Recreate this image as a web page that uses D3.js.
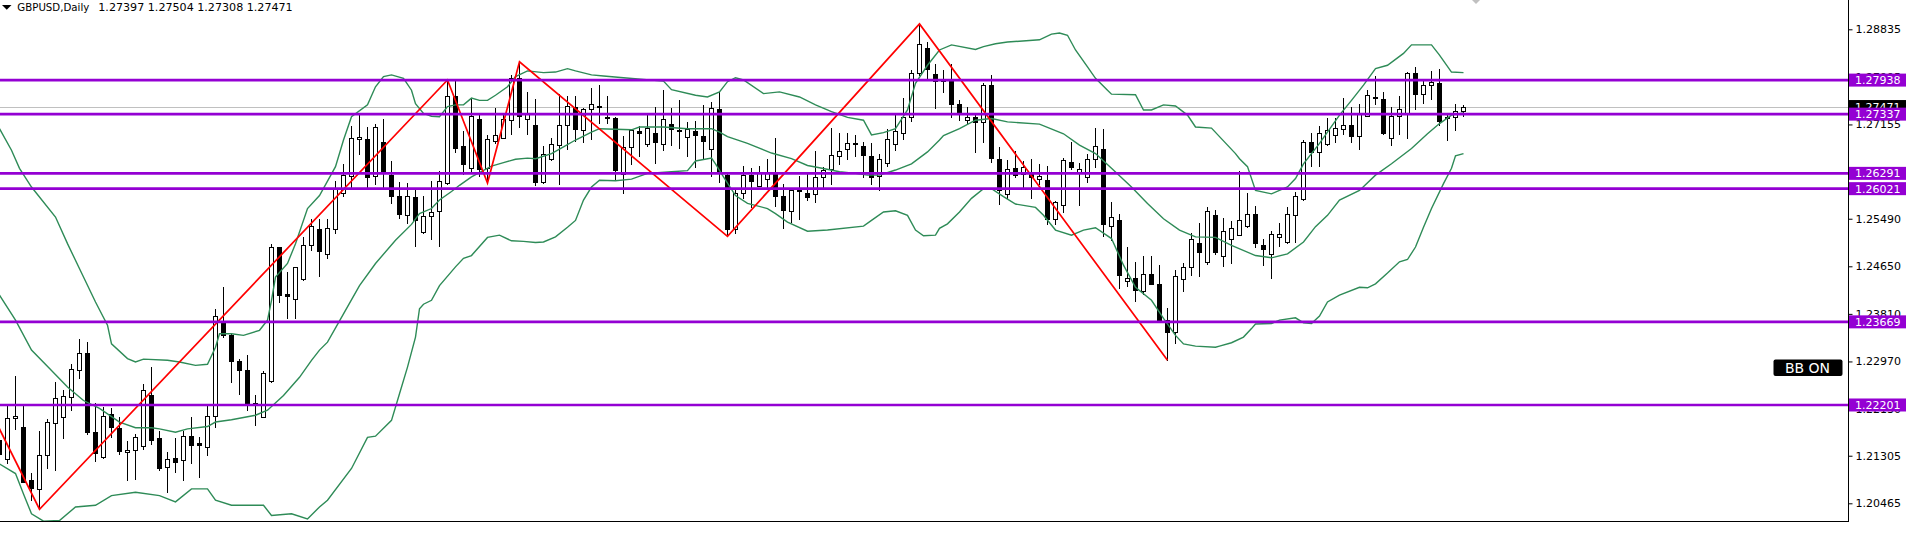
<!DOCTYPE html>
<html><head><meta charset="utf-8">
<script src="https://cdn.jsdelivr.net/npm/d3@7"></script>
<style>html,body{margin:0;padding:0;background:#fff;overflow:hidden}</style>
</head><body>
<svg id="chart" width="1913" height="540"></svg>
<script>
// ---------- DATA (GBPUSD Daily, first visible day index = -1) ----------
const symbolTitle = "GBPUSD,Daily";
const lastOHLC = ["1.27397", "1.27504", "1.27308", "1.27471"];
const firstDay = -1;
const openP = [
1.2158,1.2125,1.2198,1.2182,1.2087,1.2072,1.2131,1.2189,1.2199,1.2234,
1.2282,1.2312,1.2172,1.2128,1.2204,1.2180,1.2137,1.2141,1.2147,1.2238,
1.2161,1.2110,1.2126,1.2123,1.2165,1.2153,1.2146,1.2200,1.2365,1.2343,
1.2298,1.2282,1.2224,1.2199,1.2262,1.2499,1.2416,1.2408,1.2443,1.2503,
1.2530,1.2487,1.2531,1.2595,1.2625,1.2689,1.2689,1.2624,1.2685,1.2627,
1.2589,1.2556,1.2588,1.2526,1.2553,1.2562,1.2612,1.2766,1.2678,1.2638,
1.2725,1.2638,1.2686,1.2692,1.2724,1.2797,1.2725,1.2715,1.2613,1.2655,
1.2680,1.2714,1.2747,1.2705,1.2742,1.2748,1.2728,1.2726,1.2628,1.2675,
1.2704,1.2681,1.2701,1.2681,1.2717,1.2705,1.2694,1.2704,1.2695,1.2673,
1.2742,1.2626,1.2530,1.2595,1.2626,1.2607,1.2620,1.2629,1.2590,1.2563,
1.2598,1.2595,1.2592,1.2622,1.2636,1.2659,1.2673,1.2683,1.2678,1.2660,
1.2624,1.2648,1.2681,1.2701,1.2729,1.2807,1.2851,1.2804,1.2793,1.2795,
1.2752,1.2724,1.2728,1.2719,1.2786,1.2654,1.2592,1.2638,1.2628,1.2632,
1.2620,1.2617,1.2548,1.2573,1.2649,1.2632,1.2622,1.2654,1.2673,1.2536,
1.2546,1.2439,1.2444,1.2421,1.2451,1.2433,1.2371,1.2349,1.2442,1.2463,
1.2507,1.2472,1.2555,1.2483,1.2513,1.2521,1.2536,1.2558,1.2502,1.2487,
1.2516,1.2508,1.2556,1.2583,1.2685,1.2667,1.2681,1.2697,1.2707,1.2715,
1.2695,1.2731,1.2764,1.2760,1.2692,1.2730,1.2734,1.2807,1.2770,1.2785,
1.2788,1.2729,1.2729,1.27397];
const highP = [
1.2169,1.2219,1.2271,1.2219,1.2100,1.2175,1.2196,1.2261,1.2246,1.2292,
1.2336,1.2331,1.2224,1.2216,1.2215,1.2199,1.2156,1.2169,1.2258,1.2287,
1.2175,1.2137,1.2161,1.2175,1.2199,1.2163,1.2222,1.2390,1.2429,1.2346,
1.2302,1.2308,1.2237,1.2281,1.2505,1.2499,1.2455,1.2464,1.2517,1.2549,
1.2549,1.2549,1.2615,1.2645,1.2713,1.2732,1.2711,1.2716,1.2725,1.2651,
1.2614,1.2612,1.2601,1.2589,1.2616,1.2633,1.2794,1.2792,1.2704,1.2762,
1.2735,1.2697,1.2745,1.2736,1.2803,1.2826,1.2772,1.2760,1.2678,1.2691,
1.2770,1.2766,1.2766,1.2745,1.2779,1.2786,1.2766,1.2729,1.2695,1.2708,
1.2713,1.2733,1.2747,1.2776,1.2744,1.2758,1.2720,1.2722,1.2750,1.2755,
1.2772,1.2632,1.2602,1.2642,1.2639,1.2642,1.2654,1.2691,1.2611,1.2602,
1.2625,1.2631,1.2668,1.2641,1.2709,1.2701,1.2701,1.2697,1.2685,1.2682,
1.2663,1.2707,1.2735,1.2762,1.2811,1.2893,1.2861,1.2823,1.2811,1.2823,
1.2758,1.2747,1.2732,1.2788,1.2803,1.2676,1.2652,1.2668,1.2651,1.2654,
1.2645,1.2642,1.2580,1.2656,1.2684,1.2648,1.2664,1.2709,1.2707,1.2578,
1.2558,1.2499,1.2472,1.2483,1.2483,1.2468,1.2391,1.2458,1.2470,1.2524,
1.2542,1.2569,1.2564,1.2550,1.2545,1.2634,1.2595,1.2571,1.2513,1.2527,
1.2542,1.2569,1.2596,1.2688,1.2701,1.2712,1.2727,1.2727,1.2762,1.2747,
1.2752,1.2777,1.2801,1.2772,1.2747,1.2766,1.2808,1.2817,1.2794,1.2810,
1.2813,1.2735,1.2751,1.27504];
const lowP = [
1.2125,1.2118,1.2178,1.2084,1.2052,1.2036,1.2108,1.2105,1.2162,1.2212,
1.2267,1.2169,1.2122,1.2127,1.2163,1.2133,1.2087,1.2090,1.2143,1.2152,
1.2105,1.2066,1.2102,1.2087,1.2118,1.2093,1.2131,1.2182,1.2340,1.2261,
1.2240,1.2211,1.2184,1.2199,1.2261,1.2402,1.2374,1.2373,1.2441,1.2494,
1.2447,1.2480,1.2523,1.2590,1.2605,1.2663,1.2604,1.2611,1.2602,1.2576,
1.2551,1.2542,1.2501,1.2524,1.2514,1.2500,1.2610,1.2667,1.2628,1.2629,
1.2625,1.2612,1.2682,1.2691,1.2698,1.2711,1.2699,1.2609,1.2612,1.2652,
1.2611,1.2673,1.2686,1.2685,1.2689,1.2718,1.2718,1.2617,1.2595,1.2646,
1.2660,1.2677,1.2648,1.2670,1.2680,1.2674,1.2660,1.2641,1.2656,1.2625,
1.2613,1.2518,1.2524,1.2585,1.2570,1.2606,1.2605,1.2572,1.2533,1.2543,
1.2549,1.2582,1.2578,1.2602,1.2611,1.2646,1.2655,1.2660,1.2622,1.2610,
1.2599,1.2642,1.2670,1.2689,1.2722,1.2803,1.2794,1.2745,1.2773,1.2729,
1.2724,1.2716,1.2667,1.2685,1.2649,1.2575,1.2585,1.2622,1.2604,1.2585,
1.2611,1.2539,1.2539,1.2561,1.2636,1.2573,1.2613,1.2641,1.2518,1.2511,
1.2426,1.2430,1.2404,1.2416,1.2433,1.2367,1.2299,1.2330,1.2421,1.2449,
1.2448,1.2469,1.2487,1.2465,1.2470,1.2520,1.2535,1.2499,1.2467,1.2445,
1.2500,1.2507,1.2508,1.2582,1.2642,1.2642,1.2680,1.2684,1.2699,1.2684,
1.2672,1.2731,1.2752,1.2698,1.2679,1.2699,1.2692,1.2742,1.2754,1.2760,
1.2714,1.2688,1.2705,1.27308];
const closeP = [
1.2134,1.2198,1.2201,1.2084,1.2074,1.2132,1.2190,1.2232,1.2236,1.2284,
1.2312,1.2172,1.2135,1.2201,1.2181,1.2139,1.2141,1.2163,1.2247,1.2158,
1.2108,1.2125,1.2119,1.2166,1.2149,1.2149,1.2200,1.2378,1.2343,1.2298,
1.2282,1.2221,1.2221,1.2277,1.2499,1.2414,1.2413,1.2464,1.2503,1.2537,
1.2492,1.2533,1.2601,1.2627,1.2692,1.2694,1.2623,1.2711,1.2631,1.2590,
1.2558,1.2590,1.2547,1.2553,1.2561,1.2616,1.2766,1.2674,1.2646,1.2731,
1.2636,1.2689,1.2697,1.2725,1.2798,1.2731,1.2734,1.2614,1.2664,1.2681,
1.2715,1.2748,1.2707,1.2742,1.2751,1.2747,1.2727,1.2635,1.2675,1.2705,
1.2701,1.2709,1.2685,1.2725,1.2707,1.2704,1.2707,1.2697,1.2686,1.2744,
1.2633,1.2530,1.2595,1.2626,1.2616,1.2630,1.2629,1.2589,1.2565,1.2599,
1.2600,1.2588,1.2622,1.2635,1.2661,1.2669,1.2683,1.2681,1.2661,1.2623,
1.2655,1.2689,1.2704,1.2729,1.2807,1.2857,1.2813,1.2793,1.2795,1.2752,
1.2736,1.2728,1.2720,1.2786,1.2657,1.2599,1.2636,1.2626,1.2641,1.2622,
1.2624,1.2549,1.2578,1.2652,1.2641,1.2636,1.2654,1.2677,1.2539,1.2552,
1.2450,1.2444,1.2424,1.2452,1.2434,1.2370,1.2349,1.2447,1.2463,1.2513,
1.2490,1.2562,1.2490,1.2527,1.2533,1.2546,1.2558,1.2507,1.2496,1.2522,
1.2522,1.2558,1.2590,1.2685,1.2667,1.2701,1.2705,1.2709,1.2715,1.2695,
1.2736,1.2768,1.2762,1.2700,1.2731,1.2742,1.2807,1.2769,1.2785,1.2790,
1.2722,1.2727,1.2739,1.27471];

// Bollinger bands (day index, price)
const bbUpperDay = [-1,0.5,1.5,3,6,7.5,9.5,11,12.5,13,15,16,17,20,21.5,23.5,25,26,26.5,28,29.5,31.5,32.5,33,33.5,35,36,37.5,39,41,42,43,45,46,47,48,49.5,50.5,51,52,53,54,55,56,57,58,59,60,61,62.5,63.5,65,67,68.5,70,71,73,74.5,77,82,83,86,87.5,89,90,91,92,94.5,96.5,99,101,103,105,107,108,109.5,111,112.5,113.5,115,116.5,118,121,122,123.5,125,129,130.5,131.5,132.5,133.5,135,136,137.5,138,141,142,143,144.5,146,147.5,148.5,150.5,151.5,153.5,154,155,156,158,160,161,162,164,166.5,168,169.5,171,172.5,174.5,175.5,178,179,180.5,182];
const bbUpper = [1.2708,1.2670,1.2638,1.2605,1.2552,1.2505,1.2446,1.2402,1.2361,1.2328,1.2302,1.2296,1.2301,1.2299,1.2296,1.2290,1.2292,1.2322,1.2346,1.2346,1.2343,1.2352,1.2370,1.2405,1.2446,1.2470,1.2505,1.2567,1.2590,1.2641,1.2688,1.2729,1.2750,1.2782,1.2800,1.2803,1.2797,1.2776,1.2752,1.2735,1.2730,1.2729,1.2747,1.2750,1.2750,1.2762,1.2758,1.2758,1.2767,1.2782,1.2800,1.2810,1.2807,1.2808,1.2814,1.2810,1.2803,1.2801,1.2798,1.2792,1.2777,1.2767,1.2764,1.2773,1.2791,1.2798,1.2794,1.2770,1.2773,1.2764,1.2750,1.2738,1.2728,1.2723,1.2697,1.2701,1.2708,1.2741,1.2788,1.2820,1.2847,1.2856,1.2848,1.2853,1.2858,1.2861,1.2865,1.2875,1.2877,1.2873,1.2847,1.2817,1.2797,1.2776,1.2769,1.2768,1.2741,1.2741,1.2750,1.2748,1.2732,1.2711,1.2709,1.2694,1.2664,1.2655,1.2641,1.2599,1.2593,1.2605,1.2620,1.2646,1.2682,1.2732,1.2758,1.2785,1.2814,1.2820,1.2841,1.2856,1.2856,1.2838,1.2808,1.2807];
const bbMiddleDay = [-1,1,3,5.5,7.5,9.5,11.5,14,16,18,19,21,22.5,25,26,28,31,32.5,34.5,36.5,38,39,40,42,44,46,48.5,50.5,51.5,53,54,55.5,56.5,58,60.5,62,63.5,65,66,68,69.5,71,73,74,76,78,79,82,85,88,89,90,92.5,95.5,98,100,101.5,104,106,107.5,109,111,113,115,116.5,117,119,121,123,125,129,132,134,136,138,140.5,142.5,144.5,146.5,148.5,151,153,156,158,160,162,163.5,165,166.5,169,171,173,175.5,177.5,179,180.5,182];
const bbMiddle = [1.2414,1.2370,1.2317,1.2281,1.2252,1.2228,1.2214,1.2190,1.2180,1.2180,1.2178,1.2172,1.2178,1.2182,1.2190,1.2194,1.2202,1.2211,1.2237,1.2269,1.2299,1.2317,1.2331,1.2381,1.2431,1.2470,1.2511,1.2539,1.2558,1.2567,1.2582,1.2597,1.2608,1.2623,1.2642,1.2648,1.2654,1.2656,1.2655,1.2664,1.2676,1.2688,1.2702,1.2708,1.2707,1.2706,1.2711,1.2711,1.2708,1.2708,1.2702,1.2694,1.2682,1.2665,1.2655,1.2643,1.2639,1.2632,1.2629,1.2626,1.2626,1.2635,1.2646,1.2667,1.2688,1.2696,1.2708,1.2723,1.2726,1.2720,1.2716,1.2699,1.2679,1.2664,1.2638,1.2605,1.2576,1.2549,1.2529,1.2517,1.2516,1.2502,1.2484,1.2480,1.2487,1.2508,1.2535,1.2555,1.2582,1.2599,1.2626,1.2646,1.2673,1.2699,1.2717,1.2732,1.2736];
const bbLowerDay = [-1,1,2,3,4.5,6.5,8.5,11,13,16,19,21,23,25,26,28,32,33,35.5,37.5,39,40,43,45,46,48,49,50,51,51.5,52,53,54,56,57,58,60,61.5,63,64.5,66,67,68.5,70,71,72,73,74,76,78,80,83,85,86,88,88.5,89.5,91,92.5,95,96,97.5,100,102.5,107,108,109.5,111,112.5,113.5,114.5,116,116.5,117.5,119,120.5,122,123,124.5,126,128.5,129.5,131,133,134.5,136,138,139.5,141,143,144.5,146,147,148.5,151,151.5,153,154.5,155.5,156,158,159,161,162,163,164,165,166.5,169,170,171,172.5,174,175,176,177,178,179.5,180.5,181,182];
const bbLower = [1.2116,1.2099,1.2063,1.2028,1.2015,1.2016,1.2040,1.2043,1.2060,1.2066,1.2060,1.2049,1.2072,1.2072,1.2052,1.2043,1.2043,1.2025,1.2028,1.2019,1.2040,1.2052,1.2108,1.2163,1.2165,1.2193,1.2240,1.2287,1.2340,1.2390,1.2398,1.2405,1.2431,1.2464,1.2479,1.2484,1.2516,1.2520,1.2510,1.2509,1.2507,1.2508,1.2517,1.2534,1.2546,1.2582,1.2605,1.2617,1.2616,1.2619,1.2629,1.2632,1.2634,1.2651,1.2656,1.2646,1.2623,1.2590,1.2576,1.2567,1.2558,1.2543,1.2527,1.2529,1.2536,1.2546,1.2561,1.2563,1.2555,1.2529,1.2519,1.2520,1.2532,1.2540,1.2561,1.2585,1.2602,1.2602,1.2588,1.2575,1.2569,1.2555,1.2529,1.2520,1.2529,1.2533,1.2514,1.2467,1.2428,1.2405,1.2373,1.2343,1.2328,1.2324,1.2322,1.2324,1.2330,1.2340,1.2355,1.2363,1.2364,1.2370,1.2374,1.2365,1.2364,1.2377,1.2402,1.2414,1.2428,1.2427,1.2434,1.2453,1.2473,1.2477,1.2499,1.2534,1.2567,1.2611,1.2638,1.2660,1.2664];

// ZigZag pivots (day index, price)
const zigzagDay = [-2, 4, 55, 60, 64, 90, 114, 145];
const zigzagPrice = [1.2206, 1.2036, 1.2794, 1.2612, 1.2826, 1.2518, 1.2893, 1.2299];

// Horizontal levels
const levels = [1.27938, 1.27337, 1.26291, 1.26021, 1.23669, 1.22201];
const currentPrice = 1.27471;

// Price axis tick labels
const tickValues = [1.28835, 1.27995, 1.27155, 1.26315, 1.25490, 1.24650, 1.23810, 1.22970, 1.22130, 1.21305, 1.20465];

// ---------- DRAWING ----------
const svg = d3.select('#chart');
const plotRight = 1848, plotBottom = 521;
const font = "'DejaVu Sans', Tahoma, sans-serif";
const lastDay = firstDay + openP.length - 1;
const x = d3.scaleLinear().domain([firstDay, lastDay]).range([-0.5, -0.5 + 8 * (lastDay - firstDay)]);
const y = d3.scaleLinear().domain([1.20465, 1.28835]).range([503.3, 29.3]);
const ry = p => Math.round(y(p));

svg.append('rect').attr('width', 1913).attr('height', 540).attr('fill', '#fff');
svg.append('defs').append('clipPath').attr('id', 'plot')
  .append('rect').attr('x', 0).attr('y', 0).attr('width', plotRight).attr('height', plotBottom);

const plot = svg.append('g').attr('clip-path', 'url(#plot)');

// current price line
plot.append('line').attr('x1', 0).attr('x2', plotRight)
  .attr('y1', ry(currentPrice) + 0.5).attr('y2', ry(currentPrice) + 0.5)
  .attr('stroke', '#C0C0C0').attr('stroke-width', 1);

// candles
const candles = d3.range(openP.length).map(i => ({
  day: firstDay + i, o: openP[i], h: highP[i], l: lowP[i], c: closeP[i]
}));
const cg = plot.append('g');
cg.selectAll('line.wick').data(candles).join('line')
  .attr('class', 'wick')
  .attr('x1', d => x(d.day)).attr('x2', d => x(d.day))
  .attr('y1', d => ry(d.h)).attr('y2', d => ry(d.l) + 1)
  .attr('stroke', '#000').attr('stroke-width', 1);
cg.selectAll('rect.body').data(candles).join('rect')
  .attr('class', 'body')
  .attr('x', d => x(d.day) - 2).attr('width', 4)
  .attr('y', d => ry(Math.max(d.o, d.c)) + 0.5)
  .attr('height', d => Math.max(0, ry(Math.min(d.o, d.c)) - ry(Math.max(d.o, d.c))))
  .attr('fill', d => d.c >= d.o ? '#fff' : '#000')
  .attr('stroke', '#000').attr('stroke-width', 1);

// Bollinger bands
const band = (days, vals) => days.map((d, i) => ({ day: d, p: vals[i] }));
const line = d3.line().x(d => x(d.day)).y(d => y(d.p));
[[bbUpperDay, bbUpper], [bbMiddleDay, bbMiddle], [bbLowerDay, bbLower]].forEach(([d, v]) => {
  plot.append('path').datum(band(d, v)).attr('d', line)
    .attr('fill', 'none').attr('stroke', '#2E8B57').attr('stroke-width', 1.4);
});

// ZigZag
plot.append('path').datum(band(zigzagDay, zigzagPrice)).attr('d', line)
  .attr('fill', 'none').attr('stroke', '#FF0000').attr('stroke-width', 1.7);

// Horizontal levels
plot.selectAll('line.level').data(levels).join('line')
  .attr('class', 'level')
  .attr('x1', 0).attr('x2', plotRight)
  .attr('y1', d => y(d)).attr('y2', d => y(d))
  .attr('stroke', '#9400D3').attr('stroke-width', 2.6);

// Frame
svg.append('line').attr('x1', 0).attr('x2', plotRight + 1).attr('y1', plotBottom + 0.5).attr('y2', plotBottom + 0.5)
  .attr('stroke', '#000');
svg.append('line').attr('x1', plotRight + 0.5).attr('x2', plotRight + 0.5).attr('y1', 0).attr('y2', plotBottom + 1)
  .attr('stroke', '#000');

// Axis
const axis = d3.axisRight(y).tickValues(tickValues).tickFormat(d3.format('.5f')).tickSize(4).tickSizeOuter(0).tickPadding(3);
const ag = svg.append('g').attr('transform', `translate(${plotRight + 0.5},0)`).call(axis);
ag.select('.domain').remove();
ag.selectAll('text').attr('font-family', font).attr('font-size', 11).attr('fill', '#000');
ag.selectAll('line').attr('stroke', '#000');

// current price label (black)
const lab = svg.append('g');
lab.append('rect').attr('x', plotRight + 1).attr('y', y(currentPrice) - 6.5).attr('width', 57).attr('height', 13).attr('fill', '#000');
lab.append('text').attr('x', 1855).attr('y', y(currentPrice)).attr('dy', '0.36em')
  .attr('font-family', font).attr('font-size', 11).attr('fill', '#fff').text(d3.format('.5f')(currentPrice));

// level labels (purple)
const lg = svg.append('g').selectAll('g').data(levels).join('g');
lg.append('rect').attr('x', plotRight + 1).attr('y', d => y(d) - 6.5).attr('width', 57).attr('height', 13).attr('fill', '#9400D3');
lg.append('text').attr('x', 1855).attr('y', d => y(d)).attr('dy', '0.36em')
  .attr('font-family', font).attr('font-size', 11).attr('fill', '#fff').text(d => d3.format('.5f')(d));

// header
svg.append('path').attr('d', 'M2,5 L11.5,5 L6.75,9.8 Z').attr('fill', '#000');
svg.append('text').attr('x', 17.3).attr('y', 10.8).attr('font-family', font).attr('font-size', 10.5)
  .attr('textLength', 72).attr('lengthAdjust', 'spacingAndGlyphs').attr('fill', '#000').text(symbolTitle);
svg.append('text').attr('x', 98.3).attr('y', 10.8).attr('font-family', font).attr('font-size', 10.5)
  .attr('textLength', 194.4).attr('lengthAdjust', 'spacingAndGlyphs').attr('fill', '#000').text(lastOHLC.join(' '));

// chart shift marker
svg.append('path').attr('d', 'M1472,0 L1480,0 L1476,4 Z').attr('fill', '#C0C0C0');

// BB ON badge
svg.append('rect').attr('x', 1773.5).attr('y', 359.5).attr('width', 69).attr('height', 16.5).attr('rx', 2).attr('fill', '#000');
svg.append('text').attr('x', 1807.5).attr('y', 373.2).attr('text-anchor', 'middle')
  .attr('font-family', font).attr('font-size', 14).attr('fill', '#fff').text('BB ON');
</script>
</body></html>
